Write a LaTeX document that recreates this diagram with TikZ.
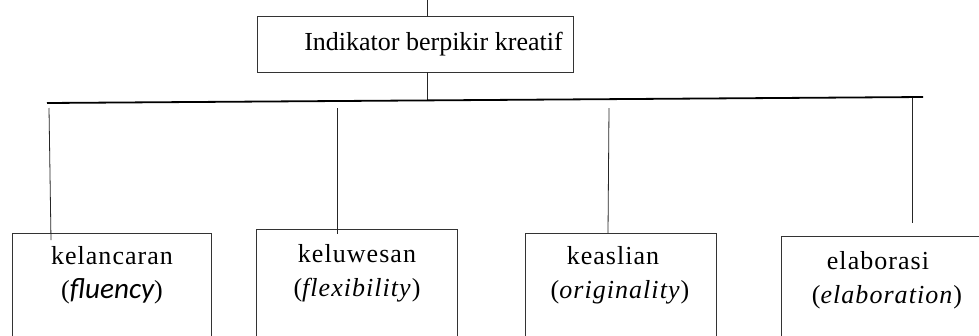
\documentclass[tikz,border=0pt]{standalone}
\usepackage{fontspec}
\setmainfont{Liberation Serif}
\newfontfamily\calfont[Scale=1.12]{Carlito}
\newfontfamily\spacedfont[LetterSpace=4]{Liberation Serif}
\usetikzlibrary{positioning}

\begin{document}
\begin{tikzpicture}[x=1pt,y=-1pt]
\tikzstyle{every node}=[font=\fontsize{24}{34}\selectfont]
\tikzstyle{kotak}=[draw=black!80, line width=0.8pt, inner sep=0pt]
\tikzstyle{anak}=[kotak, anchor=north, minimum height=140]
\tikzstyle{isi}=[align=center, font=\fontsize{26}{34}\selectfont\spacedfont]
\tikzstyle{garis}=[black!85, line width=0.8pt]

% white page, cut at the picture's edges
\clip (0,0) rectangle (979,335);
\fill[white] (0,0) rectangle (979,335);

% top box
\node[kotak, minimum width=316, minimum height=56, font=\fontsize{26}{30}\selectfont]
  (indikator) at (415,44) {\hspace{37pt}Indikator berpikir kreatif};

% the four boxes below
\node[anak, minimum width=199] (b1) at (111.5,233) {};
\node[anak, minimum width=201] (b2) at (356.5,229) {};
\node[anak, minimum width=191] (b3) at (620.5,233) {};
\node[anak, minimum width=220, anchor=north west] (b4) at (781,236) {};

% texts in the boxes
\node[isi] (t1) at (112,275) {kelancaran\\({\calfont\itshape fluency})};
\node[isi] (t2) at (357,273.5) {keluwesan\\(\textit{flexibility})};
\node[isi] (t3) at (613,275) {keaslian\\\hspace*{14pt}(\textit{originality})};
\node[isi] (t4) at (878,280) {elaborasi\\\hspace*{18pt}(\textit{elaboration})};

% connectors
\coordinate (atas) at (427,0);
\coordinate (simpul) at (427,101);
\draw[garis] (atas) -- (atas |- indikator.north);
\draw[garis] (indikator.south -| simpul) -- (simpul);

\coordinate (barL) at (47,103);
\coordinate (barR) at (923,97);
\draw[line width=1.8pt] (barL) -- (barR);

\coordinate (a1) at (49,108);   \coordinate (e1) at (51,240);
\coordinate (a2) at (337,108);  \coordinate (e2) at (337,234);
\coordinate (a3) at (609,108);  \coordinate (e3) at (608,233);
\coordinate (a4) at (912,98);   \coordinate (e4) at (912,223);
\foreach \i in {1,2,3,4}
  \draw[garis] (a\i) -- (e\i);

\end{tikzpicture}
\end{document}
